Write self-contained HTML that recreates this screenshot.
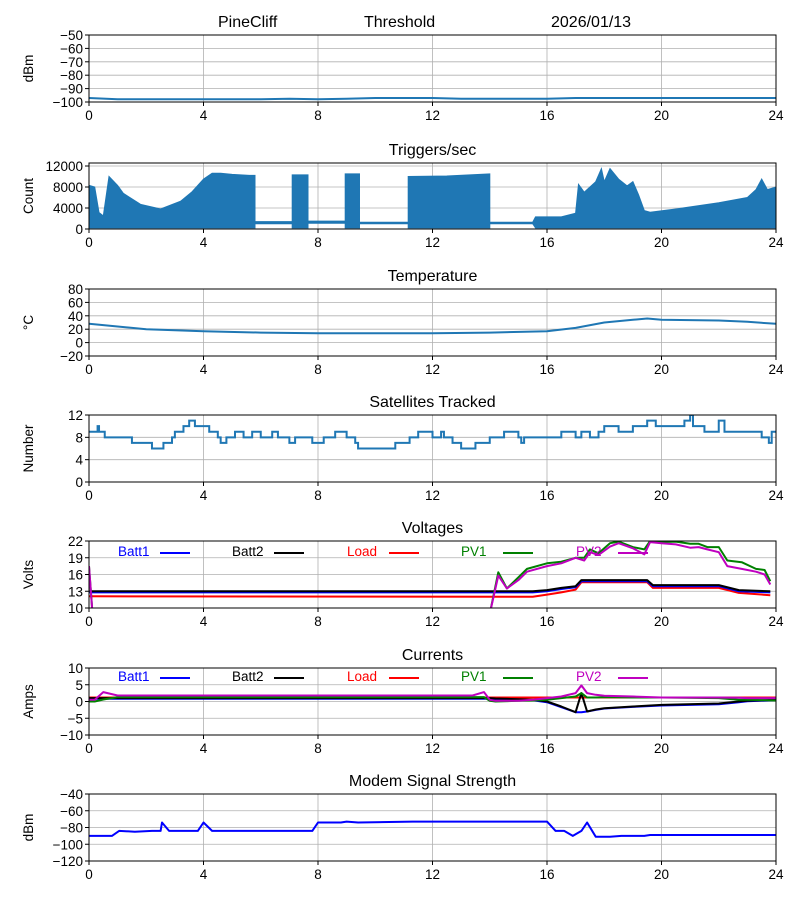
<!DOCTYPE html>
<html><head><meta charset="utf-8">
<style>
html,body{margin:0;padding:0;background:#fff;}
svg{display:block;font-family:"Liberation Sans","DejaVu Sans",sans-serif;}
</style></head>
<body>
<svg id="chart" width="800" height="900" viewBox="0 0 800 900" xmlns="http://www.w3.org/2000/svg">
<rect width="800" height="900" fill="#fff"/>
<text x="218" y="27" font-size="16">PineCliff</text>
<text x="364" y="27" font-size="16">Threshold</text>
<text x="551" y="27" font-size="16">2026/01/13</text>
</svg>
<script>
// ---- data ----
const xTicks = [0,4,8,12,16,20,24];
const noiseT = [0,1,2,3,4,5,6,7,8,9,10,11,12,13,14,15,16,17,18,19,20,21,22,23,24];
const noiseV = [-97,-98,-98,-98,-98,-98,-98,-97.5,-98,-97.5,-97,-97,-97,-97.5,-97.5,-97.5,-97.5,-97,-97,-97,-97,-97,-97,-97,-97];
const trigT  = [0,0.2,0.35,0.5,0.7,1,1.2,1.8,2.5,3.2,3.6,4,4.3,4.6,5,5.6,5.8,5.8,7.1,7.1,7.65,7.65,8.95,8.95,9.45,9.45,11.15,11.15,12.5,14,14,15.5,15.6,16.5,17,17.1,17.3,17.7,17.9,18,18.2,18.5,18.8,19,19.2,19.4,19.6,20.5,22,23,23.3,23.5,23.7,24];
const trigHi = [8300,8000,3150,2500,10000,8300,6800,4700,3800,5300,7100,9500,10600,10600,10400,10200,10200,1400,1400,10300,10300,1500,1500,10500,10500,1300,1300,10000,10100,10500,1300,1300,2300,2300,3000,8500,7000,9000,11500,9000,11500,9500,8200,9000,6500,3500,3200,3800,5000,6000,7500,9500,7500,8000];
const trigLo = [200,200,200,200,200,200,200,200,200,200,200,200,200,200,200,200,200,1000,1000,200,200,1100,1100,200,200,1000,1000,200,200,200,1000,1000,200,200,200,200,200,200,200,200,200,200,200,200,200,200,200,200,200,200,200,200,200,200];
const tempT = [0,1,2,4,6,8,10,12,14,16,17,18,19,19.5,20,22,23,24];
const tempV = [28,24,20,17,15,14,14,14,15,17,22,30,34,36,34,33,31,28];
const satT = [0,0.3,0.35,0.55,1.5,2.2,2.6,2.9,3.0,3.3,3.5,3.7,4.2,4.5,4.6,4.8,5.1,5.4,5.7,6.0,6.4,6.6,7.0,7.2,7.8,8.2,8.6,9.0,9.3,9.4,10.7,11.2,11.5,12.0,12.3,12.4,12.7,13.0,13.5,14.0,14.5,15.0,15.1,15.2,16.5,17.0,17.2,17.5,17.8,18.0,18.5,19.0,19.5,19.8,20.8,21.0,21.1,21.5,22.0,22.2,23.5,23.75,23.85];
const satV = [9,10,9,8,7,6,7,8,9,10,11,10,9,8,7,8,9,8,9,8,9,8,7,8,7,8,9,8,7,6,7,8,9,8,9,8,7,6,7,8,9,8,7,8,9,8,9,8,9,10,9,10,11,10,11,12,10,9,11,9,8,7,9];
const voltT = [0,0.25,14.0,14.3,14.6,15,15.3,16,16.5,17,17.3,17.5,17.8,18.2,18.5,19.0,19.4,19.6,20,20.5,21,21.3,21.6,22,22.3,22.8,23.3,23.6,23.8];
const pv1V  = [17.5,0,9,16.4,13.5,15.5,17.0,18.0,18.3,19.0,19.0,20.5,19.8,21.6,21.9,20.9,20.5,22.0,21.8,21.9,21.5,21.5,20.9,20.9,18.5,18.2,17.0,16.8,14.8];
const pv2V  = [17.5,0,9,15.8,13.5,15.0,16.5,17.5,18.0,19.0,18.5,20.0,19.5,21.0,21.6,20.7,19.6,21.8,21.6,21.4,20.8,20.9,20.5,20.0,17.5,17.0,16.5,16.0,14.2];
const battT = [0,15.5,16,16.5,17,17.2,19.5,19.7,22,22.7,23.8];
const batt2V = [13.0,13.0,13.2,13.6,13.9,15.0,15.0,14.1,14.1,13.2,13.0];
const batt1V = [12.8,12.8,13.0,13.4,13.7,14.8,14.8,13.9,13.9,13.0,12.8];
const loadV  = [12.1,12.0,12.4,12.8,13.3,14.6,14.6,13.6,13.6,12.7,12.3];
const curT   = [0,0.2,0.5,1,13.4,13.8,14.0,14.2,15,15.5,16,16.5,17,17.2,17.4,17.7,18,19,20,22,22.7,23,24];
const pv2A   = [0.5,0.5,2.8,1.8,1.8,2.8,0.5,0.2,0.2,0.5,1.0,1.5,2.5,4.8,2.5,2.0,1.7,1.5,1.2,1.2,1.1,1.0,1.0];
const pv1A   = [0,0,0.6,1.3,1.3,1.3,0.2,0,0.2,0.3,0.5,1.0,1.5,2.5,1.2,1.2,1.3,1.2,1.2,1.0,0.5,0.5,0.3];
const loadA  = [1.2,1.2,1.2,1.2,1.2,1.2,1.2,1.2,1.2,1.2,1.2,1.2,1.2,1.2,1.2,1.2,1.2,1.2,1.2,1.2,1.2,1.2,1.2];
const batt2A = [1.0,1.0,1.0,1.0,1.0,1.0,1.0,0.9,0.7,0.5,0,-1.5,-3.2,2.5,-3.0,-2.4,-2.0,-1.5,-1.0,-0.6,0,0.2,0.5];
const batt1A = [0.8,0.8,0.8,0.8,0.8,0.8,0.8,0.7,0.6,0.4,-0.2,-1.7,-3.2,-3.2,-3.0,-2.5,-2.1,-1.6,-1.2,-0.8,-0.2,0.1,0.4];
const modemT = [0,0.8,1.05,1.6,2.2,2.5,2.55,2.8,3.8,4.0,4.3,7.8,8.0,8.8,9.0,9.4,11.3,13.6,16.0,16.3,16.6,16.9,17.2,17.4,17.7,18.2,18.6,19.4,19.6,24];
const modemV = [-90,-90,-84,-85,-84,-84,-74,-84,-84,-74,-84,-84,-74,-74,-73,-74,-73,-73,-73,-84,-84,-90,-84,-74,-91,-91,-90,-90,-89,-89];

const NS = "http://www.w3.org/2000/svg";
const svg = document.getElementById('chart');
const L = 89, R = 776;
function sx(t){ return L + (t/24)*(R-L); }
function mk(tag, attrs, parent){
  const e = document.createElementNS(NS, tag);
  for (const k in attrs) e.setAttribute(k, attrs[k]);
  (parent||svg).appendChild(e); return e;
}
function panel(name, top, bot, ymin, ymax, yticks, title, ylabel){
  const g = mk('g', {});
  
  
  const sy = v => bot - (v - ymin)/(ymax - ymin)*(bot - top);
  // grid
  xTicks.forEach(t => { mk('line', {x1:sx(t),x2:sx(t),y1:top,y2:bot,stroke:'#b0b0b0','stroke-width':0.8}, g); });
  yticks.forEach(v => { mk('line', {x1:L,x2:R,y1:sy(v),y2:sy(v),stroke:'#b0b0b0','stroke-width':0.8}, g); });
  const clipId = 'clip-' + name;
  const cp = mk('clipPath', {id:clipId}, g);
  mk('rect', {x:L,y:top,width:R-L,height:bot-top}, cp);
  const plot = mk('g', {'clip-path':'url(#'+clipId+')'}, g);
  // frame and ticks
  const frame = mk('rect', {x:L,y:top,width:R-L,height:bot-top,fill:'none',stroke:'#000','stroke-width':1}, g);
  
  
  xTicks.forEach(t => {
    mk('line', {x1:sx(t),x2:sx(t),y1:bot,y2:bot+4,stroke:'#000'}, g);
    const tx = mk('text', {x:sx(t),y:bot+18,'font-size':13.5,'text-anchor':'middle'}, g);
    tx.textContent = t;
    
    
  });
  yticks.forEach(v => {
    mk('line', {x1:L-4,x2:L,y1:sy(v),y2:sy(v),stroke:'#000'}, g);
    const tx = mk('text', {x:L-6,y:sy(v)+5,'font-size':13.5,'text-anchor':'end'}, g);
    tx.textContent = String(v).replace('-', '\u2212');
    
    
  });
  if (title){
    const tt = mk('text', {x:(L+R)/2,y:top-8,'font-size':16,'text-anchor':'middle'}, g);
    tt.textContent = title;
    
    
  }
  const yl = mk('text', {x:0,y:0,'font-size':13.5,'text-anchor':'middle',transform:'translate(33,'+((top+bot)/2)+') rotate(-90)'}, g);
  yl.textContent = ylabel;
  
  
  return {sy, plot};
}
function line(p, ts, vs, color, w, nm){
  const d = ts.map((t,i)=>(i?'L':'M')+sx(t).toFixed(1)+','+p.sy(vs[i]).toFixed(1)).join('');
  const e = mk('path', {d, fill:'none', stroke:color, 'stroke-width':w, 'stroke-linejoin':'round'}, p.plot);
  
  
  return e;
}
function stepLine(p, ts, vs, color, w, nm){
  let d = '';
  ts.forEach((t,i)=>{
    const x = sx(t), y = p.sy(vs[i]);
    if (i===0) d += 'M'+x+','+y; else d += 'L'+x+','+p.sy(vs[i-1])+'L'+x+','+y;
  });
  d += 'L'+sx(24)+','+p.sy(vs[vs.length-1]);
  const e = mk('path', {d, fill:'none', stroke:color, 'stroke-width':w}, p.plot);
  
  
}
function legend(p, y){
  const items = [['Batt1','#0000ff',118],['Batt2','#000000',232],['Load','#ff0000',347],['PV1','#008000',461],['PV2','#bf00bf',576]];
  items.forEach(it=>{
    const tx = mk('text', {x:it[2],y:y+5,'font-size':13.5,fill:it[1]});
    tx.textContent = it[0];
    
    
    mk('line', {x1:it[2]+42,x2:it[2]+72,y1:y+2,y2:y+2,stroke:it[1],'stroke-width':2});
  });
}
const blue = '#1f77b4';

// Panel 1 noise
const p1 = panel('noise', 35, 102, -100, -50, [-100,-90,-80,-70,-60,-50], '', 'dBm');
line(p1, noiseT, noiseV, blue, 2, 'noise-line');

// Panel 2 triggers
const p2 = panel('triggers', 163, 229, 0, 12570, [0,4000,8000,12000], 'Triggers/sec', 'Count');
{
  let d = trigT.map((t,i)=>(i?'L':'M')+sx(t).toFixed(1)+','+p2.sy(trigHi[i]).toFixed(1)).join('');
  for (let i=trigT.length-1;i>=0;i--) d += 'L'+sx(trigT[i]).toFixed(1)+','+p2.sy(trigLo[i]).toFixed(1);
  const e = mk('path', {d:d+'Z', fill:blue, stroke:blue, 'stroke-width':1}, p2.plot);
  
  
}

// Panel 3 temperature
const p3 = panel('temperature', 289, 356, -20, 80, [-20,0,20,40,60,80], 'Temperature', '\u00B0C');
line(p3, tempT, tempV, blue, 2, 'temperature-line');

// Panel 4 satellites
const p4 = panel('satellites', 415, 482, 0, 12, [0,4,8,12], 'Satellites Tracked', 'Number');
stepLine(p4, satT, satV, blue, 2, 'satellites-line');

// Panel 5 voltages
const p5 = panel('voltages', 541, 608, 10, 22, [10,13,16,19,22], 'Voltages', 'Volts');
legend(p5, 551);
line(p5, battT, loadV, '#ff0000', 2, 'load-voltage-line');
line(p5, battT, batt1V, '#0000ff', 2, 'batt1-voltage-line');
line(p5, battT, batt2V, '#000000', 2, 'batt2-voltage-line');
line(p5, voltT, pv1V, '#008000', 2, 'pv1-voltage-line');
line(p5, voltT, pv2V, '#bf00bf', 2, 'pv2-voltage-line');

// Panel 6 currents
const p6 = panel('currents', 668, 735, -10, 10, [-10,-5,0,5,10], 'Currents', 'Amps');
legend(p6, 676);
line(p6, curT, loadA, '#ff0000', 2, 'load-current-line');
line(p6, curT, batt1A, '#0000ff', 2, 'batt1-current-line');
line(p6, curT, batt2A, '#000000', 2, 'batt2-current-line');
line(p6, curT, pv1A, '#008000', 2, 'pv1-current-line');
line(p6, curT, pv2A, '#bf00bf', 2, 'pv2-current-line');

// Panel 7 modem
const p7 = panel('modem', 794, 861, -120, -40, [-120,-100,-80,-60,-40], 'Modem Signal Strength', 'dBm');
line(p7, modemT, modemV, '#0000ff', 2, 'modem-signal-line');
</script>
</body></html>
